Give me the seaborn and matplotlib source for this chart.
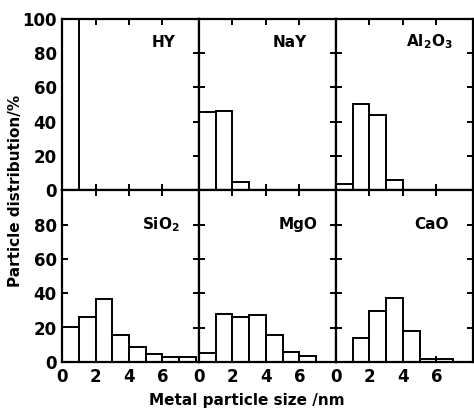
import numpy as np
import pandas as pd
import matplotlib
matplotlib.use("Agg")
import matplotlib.pyplot as plt
import seaborn as sns

# Particle size bins (nm): 1-nm wide bins
bin_edges = [0, 1, 2, 3, 4, 5, 6, 7, 8]
bin_centers = [0.5, 1.5, 2.5, 3.5, 4.5, 5.5, 6.5, 7.5]

supports = ["HY", "NaY", "Al$_2$O$_3$", "SiO$_2$", "MgO", "CaO"]
hy_vals = [100, 0, 0, 0, 0, 0, 0, 0]
nay_vals = [46, 46.5, 5, 0, 0, 0, 0, 0]
al2o3_vals = [4, 50.5, 44, 6, 0, 0, 0, 0]
sio2_vals = [20.5, 26, 37, 16, 9, 4.5, 3, 3]
mgo_vals = [5, 28, 26, 27.5, 15.5, 6, 3.5, 0]
cao_vals = [0, 14, 30, 37.5, 18, 1.5, 2, 0]

yticks = [0, 20, 40, 60, 80, 100]
ylabels_top = ["0", "20", "40", "60", "80", "100"]
ylabels_bottom = ["0", "20", "40", "60", "80", ""]
xticks = [0, 2, 4, 6]

sns.set_style("ticks")
plt.rcParams["font.family"] = ["DejaVu Sans"]
plt.rcParams["font.weight"] = "bold"
plt.rcParams["text.color"] = "black"
plt.rcParams["axes.edgecolor"] = "black"
plt.rcParams["xtick.color"] = "black"
plt.rcParams["ytick.color"] = "black"
plt.rcParams["axes.labelcolor"] = "black"

all_vals = [hy_vals, nay_vals, al2o3_vals, sio2_vals, mgo_vals, cao_vals]

fig, axes = plt.subplots(2, 3, figsize=(4.74, 4.19), dpi=100)
fig.subplots_adjust(left=0.131, right=0.998, top=0.955, bottom=0.136,
                    wspace=0, hspace=0)

label_pos = [(0.74, 0.865), (0.66, 0.865), (0.68, 0.865),
             (0.72, 0.80), (0.72, 0.80), (0.70, 0.80)]

for i, ax in enumerate(axes.flat):
    df = pd.DataFrame({"size": bin_centers, "pct": all_vals[i]})
    df = df[df["pct"] > 0]
    sns.histplot(data=df, x="size", weights="pct", bins=bin_edges,
                 color="white", edgecolor="black", linewidth=1.4,
                 alpha=1, ax=ax)
    ax.set_xlim(0, 8.2)
    ax.set_ylim(0, 100)
    ax.set_xlabel("")
    ax.set_ylabel("")
    ax.set_xticks(xticks)
    ax.set_yticks(yticks)
    row = i // 3
    col = i % 3
    if row == 0:
        ax.tick_params(axis="x", labelbottom=False)
    else:
        ax.set_xticklabels([str(t) for t in xticks], fontsize=12,
                           fontweight="bold")
    if col == 0:
        ax.set_yticklabels(ylabels_top if row == 0 else ylabels_bottom,
                           fontsize=12, fontweight="bold")
    else:
        ax.tick_params(axis="y", labelleft=False)
    ax.tick_params(direction="in", top=True, right=True, length=4,
                   width=1.4, pad=4)
    for s in ax.spines.values():
        s.set_linewidth(1.6)
        s.set_visible(True)
    ax.text(label_pos[i][0], label_pos[i][1], supports[i],
            transform=ax.transAxes, ha="center", va="center",
            fontsize=11, fontweight="bold")

fig.text(0.032, 0.545, "Particle distribution/%", rotation=90,
         ha="center", va="center", fontsize=11, fontweight="bold")
fig.text(0.52, 0.045, "Metal particle size /nm", ha="center",
         va="center", fontsize=11, fontweight="bold")

fig.savefig("out.png", dpi=100, facecolor="white")
